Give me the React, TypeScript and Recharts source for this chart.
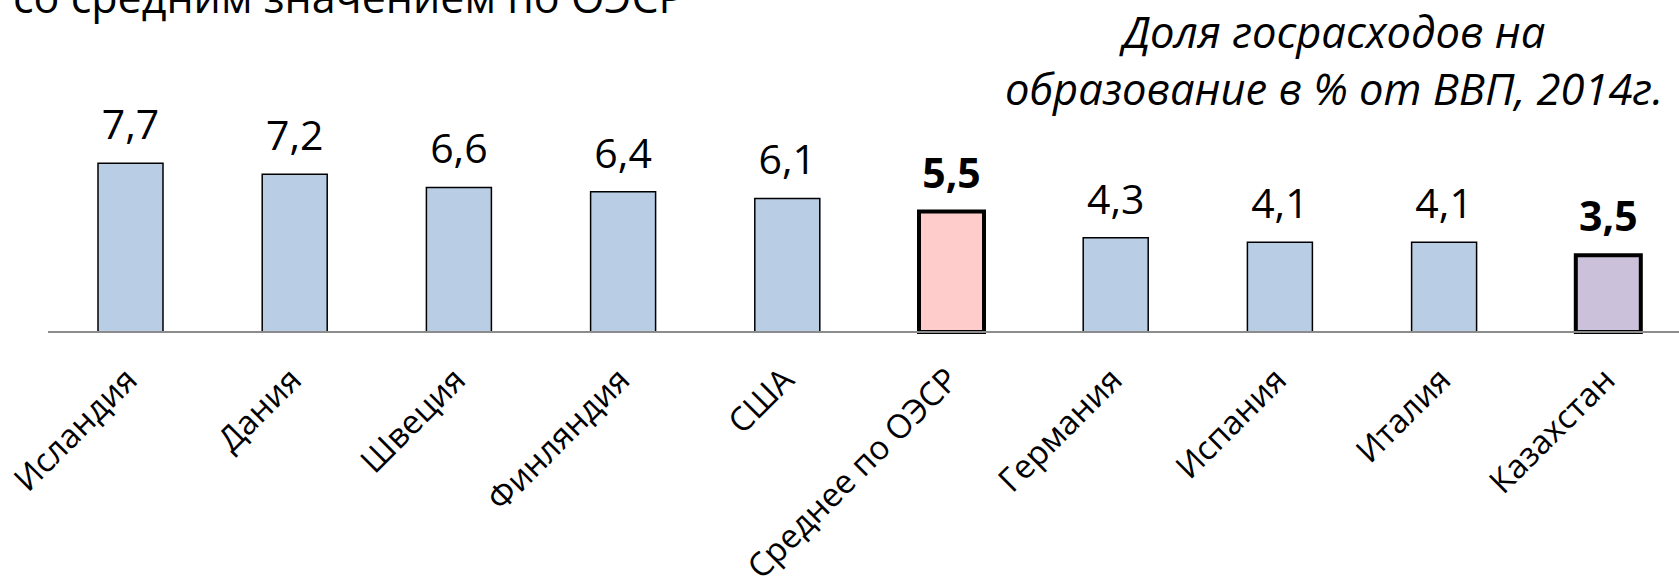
import { Bar, BarChart, Cell, LabelList, XAxis, YAxis } from "recharts";

const categories = [
  "Исландия",
  "Дания",
  "Швеция",
  "Финляндия",
  "США",
  "Среднее по ОЭСР",
  "Германия",
  "Испания",
  "Италия",
  "Казахстан",
];
const values = [7.7, 7.2, 6.6, 6.4, 6.1, 5.5, 4.3, 4.1, 4.1, 3.5];
const highlight = ["Среднее по ОЭСР", "Казахстан"];
const titleLines = ["Доля госрасходов на", "образование в % от ВВП, 2014г."];
const cutHeading = "со средним значением по ОЭСР";

const data = categories.map((name, i) => ({ name, value: values[i] }));

const FONT = "'Open Sans', sans-serif";

function barFill(name: string) {
  if (name === "Среднее по ОЭСР") return "#FFCCCC";
  if (name === "Казахстан") return "#CCC1DA";
  return "#B9CDE5";
}

function CountryTick(props: any) {
  const { x, y, payload } = props;
  return (
    <text
      transform={`translate(${x + 9}, ${y + 42}) rotate(-45)`}
      textAnchor="end"
      fontFamily={FONT}
      fontSize={33}
      fill="#000"
    >
      {payload.value}
    </text>
  );
}

function ValueLabel(props: any) {
  const { x, y, width, value, index } = props;
  const bold = highlight.includes(categories[index]);
  return (
    <text
      x={x + width / 2}
      y={y - 24}
      textAnchor="middle"
      fontFamily={FONT}
      fontSize={41}
      fontWeight={bold ? 700 : 400}
      fill="#000"
    >
      {Number(value).toFixed(1).replace(".", ",")}
    </text>
  );
}

export default function App() {
  return (
    <div
      style={{
        position: "fixed",
        left: 0,
        top: 0,
        width: 1679,
        height: 577,
        overflow: "hidden",
        background: "#fff",
      }}
    >
      <BarChart
        width={1690}
        height={577}
        data={data}
        margin={{ top: 113, right: 0, bottom: 0, left: 48 }}
        barCategoryGap={0}
      >
        <YAxis hide domain={[0, 10]} />
        <XAxis
          dataKey="name"
          height={245}
          interval={0}
          tickLine={false}
          axisLine={{ stroke: "#8c8c8c", strokeWidth: 2 }}
          tick={<CountryTick />}
        />
        <Bar dataKey="value" barSize={65} isAnimationActive={false}>
          {data.map((d) => (
            <Cell
              key={d.name}
              fill={barFill(d.name)}
              stroke="#000"
              strokeWidth={highlight.includes(d.name) ? 4 : 1.5}
            />
          ))}
          <LabelList dataKey="value" content={<ValueLabel />} />
        </Bar>
      </BarChart>
      <svg
        width={1679}
        height={577}
        style={{ position: "absolute", left: 0, top: 0, pointerEvents: "none" }}
      >
        <text x={13} y={13} fontFamily={FONT} fontSize={43} fill="#000">
          {cutHeading}
        </text>
        {titleLines.map((line, i) => (
          <text
            key={line}
            x={1334}
            y={48 + i * 57}
            textAnchor="middle"
            fontFamily={FONT}
            fontStyle="italic"
            fontSize={43.5}
            fill="#000"
          >
            {line}
          </text>
        ))}
      </svg>
    </div>
  );
}
